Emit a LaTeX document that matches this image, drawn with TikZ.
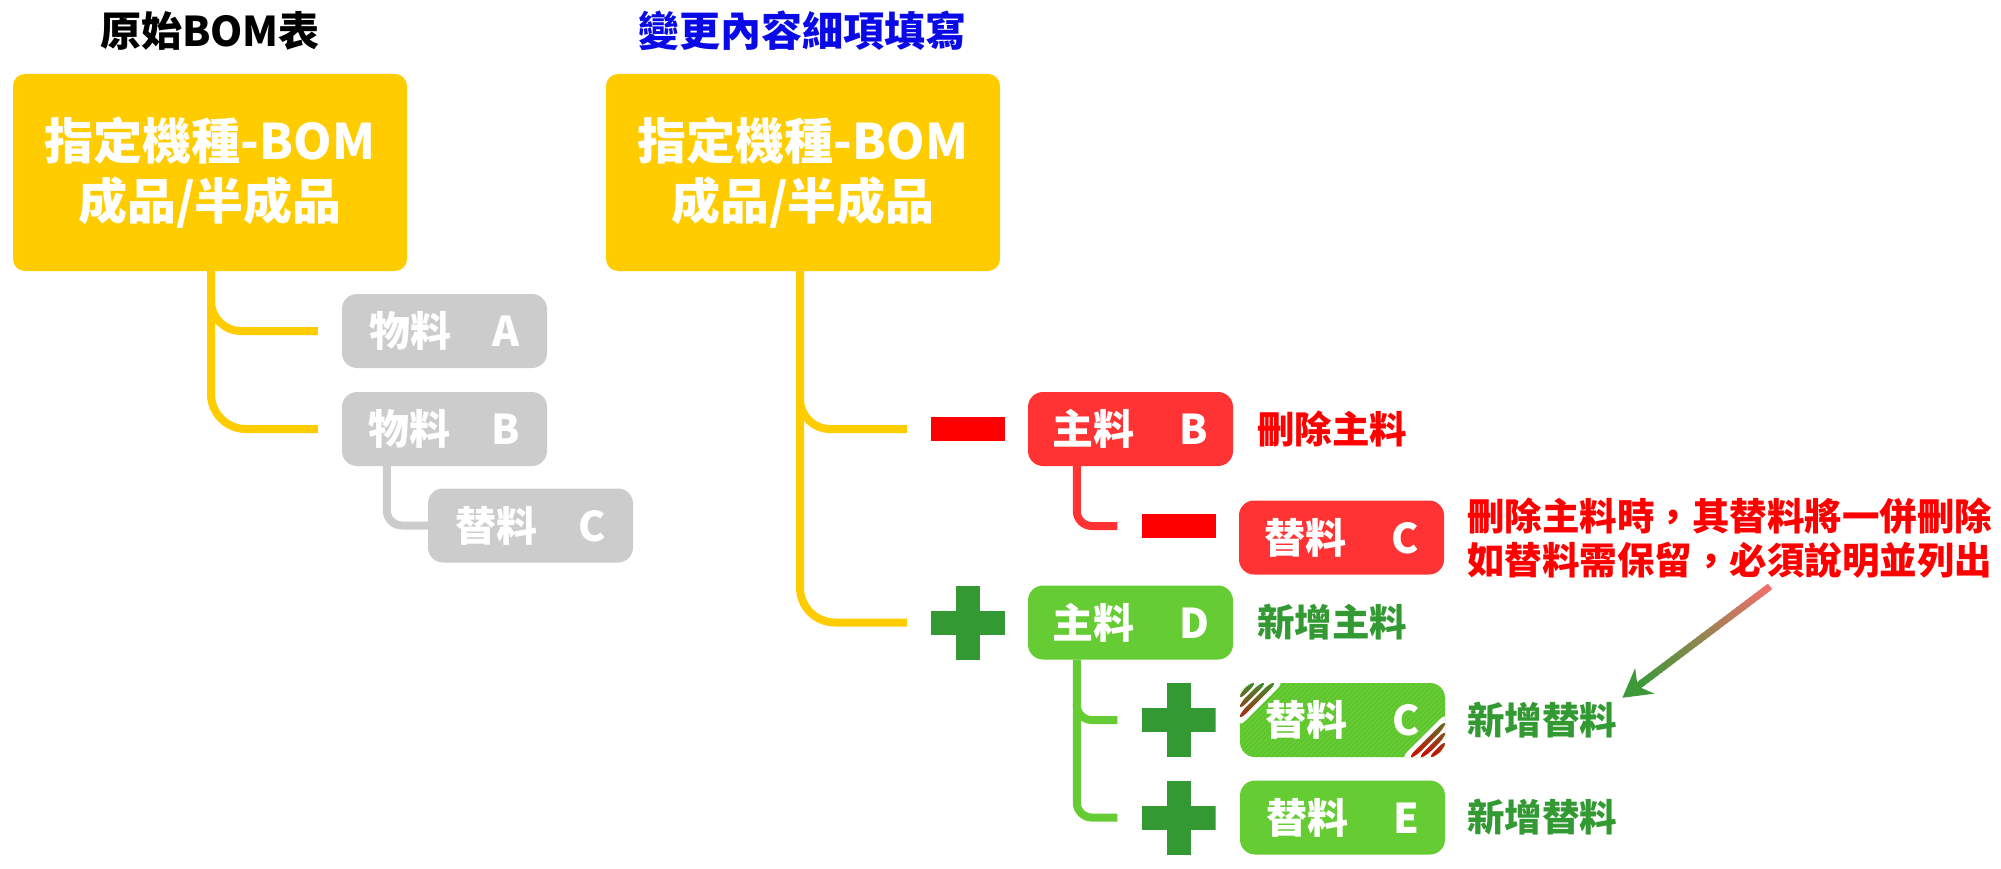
\documentclass[tikz,border=0pt]{standalone}
\usepackage{fontspec}
\setmainfont{Noto Sans CJK TC}
\usetikzlibrary{calc,arrows.meta}
\definecolor{cylw}{RGB}{255,204,0}
\definecolor{cgray}{RGB}{204,204,204}
\definecolor{cred}{RGB}{255,51,51}
\definecolor{cpure}{RGB}{255,0,0}
\definecolor{cgrn}{RGB}{102,204,51}
\definecolor{cdgrn}{RGB}{51,153,51}
\definecolor{cblue}{RGB}{10,10,230}
\definecolor{ared}{RGB}{242,112,108}
\definecolor{agrn}{RGB}{60,152,56}
\definecolor{hatchg}{RGB}{88,190,42}
\tikzset{
  title/.style={inner sep=0pt, font={\bfseries\fontsize{41}{48}\selectfont}},
  bigbox/.style={fill=cylw, rounded corners=12pt, minimum width=394pt, minimum height=197pt,
    inner sep=0pt, text=white, align=center, font={\bfseries\fontsize{49}{60}\selectfont}},
  item/.style={rounded corners=15pt, minimum width=205pt, minimum height=74pt, inner sep=0pt,
    text=white, font={\bfseries\fontsize{41}{48}\selectfont}},
  label/.style={anchor=west, inner sep=0pt, font={\bfseries\fontsize{37.5}{44}\selectfont}},
  minusnode/.style={fill=cpure, minimum width=74pt, minimum height=24pt, inner sep=0pt},
  plusnode/.style={minimum size=74pt, inner sep=0pt, path picture={
    \fill[cdgrn] ([xshift=-37pt,yshift=-12pt]path picture bounding box.center) rectangle ([xshift=37pt,yshift=12pt]path picture bounding box.center);
    \fill[cdgrn] ([xshift=-12pt,yshift=-37pt]path picture bounding box.center) rectangle ([xshift=12pt,yshift=37pt]path picture bounding box.center);}},
  conn/.style={line width=8pt},
  hatchbox/.style={path picture={
    \foreach \s in {0,5,...,285}{
      \draw[hatchg, line width=0.7pt] ([shift={(\s+5,-5)}]path picture bounding box.north west) -- ([shift={(-5,\s+5)}]path picture bounding box.north west);
    }
    \fill[white] ([shift={(-5,-5)}]path picture bounding box.north west) -- ([shift={(48,-5)}]path picture bounding box.north west) -- ([shift={(-5,48)}]path picture bounding box.north west) -- cycle;
    \begin{scope}
      \clip \foreach \a in {0,10,20,30}{
        ([shift={(\a+5,-5)}]path picture bounding box.north west) -- ([shift={(\a+11.5,-5)}]path picture bounding box.north west) -- ([shift={(-5,\a+11.5)}]path picture bounding box.north west) -- ([shift={(-5,\a+5)}]path picture bounding box.north west) -- cycle };
      \shade[top color=cdgrn, bottom color=cpure!85!black] ([shift={(-5,-5)}]path picture bounding box.north west) rectangle ([shift={(50,50)}]path picture bounding box.north west);
    \end{scope}
    \fill[white] ([shift={(5,5)}]path picture bounding box.south east) -- ([shift={(-48,5)}]path picture bounding box.south east) -- ([shift={(5,-48)}]path picture bounding box.south east) -- cycle;
    \begin{scope}
      \clip \foreach \a in {0,10,20,30}{
        ([shift={(-\a-5,5)}]path picture bounding box.south east) -- ([shift={(-\a-11.5,5)}]path picture bounding box.south east) -- ([shift={(5,-\a-11.5)}]path picture bounding box.south east) -- ([shift={(5,-\a-5)}]path picture bounding box.south east) -- cycle };
      \shade[top color=cdgrn, bottom color=cpure!85!black] ([shift={(5,5)}]path picture bounding box.south east) rectangle ([shift={(-50,-50)}]path picture bounding box.south east);
    \end{scope}
  }},
}
\begin{document}
\begin{tikzpicture}[x=1pt,y=-1pt]
\fill[white] (0,0) rectangle (2001,869);
\useasboundingbox (0,0) rectangle (2001,869);

% titles
\node[title] (t1) at (210,31) {原始BOM表};
\node[title, text=cblue] (t2) at (802,31) {變更內容細項填寫};

% main boxes
\node[bigbox] (Lbox) at (210,172.5) {指定機種-BOM\\成品/半成品};
\node[bigbox] (Rbox) at (803,172.5) {指定機種-BOM\\成品/半成品};

% left tree items
\node[item, fill=cgray] (ga) at (444.5,331) {物料\hspace{1em}A};
\node[item, fill=cgray] (gb) at (444.5,429) {物料\hspace{1em}B};
\node[item, fill=cgray] (gc) at (530.5,525.5) {替料\hspace{1em}C};

% right tree items
\node[minusnode] (m1) at (968,429) {};
\node[item, fill=cred] (rb) at (1130.5,429) {主料\hspace{1.1em}B};
\node[minusnode] (m2) at (1178.5,526) {};
\node[item, fill=cred] (rc) at (1341.5,537.5) {替料\hspace{1.1em}C};

\node[plusnode] (p1) at (968,622.5) {};
\node[item, fill=cgrn] (gd) at (1130.5,622.5) {主料\hspace{1.1em}D};
\node[plusnode] (p2) at (1178.5,720) {};
\node[item, fill=cgrn, hatchbox] (gcc) at (1342.5,720) {替料\hspace{1.1em}C};
\node[plusnode] (p3) at (1178.5,817.5) {};
\node[item, fill=cgrn] (ge) at (1342.5,817.5) {替料\hspace{1.1em}E};

% labels
\node[label, text=cpure] (l1) at (1257,429) {刪除主料};
\node[label, text=cdgrn] (l2) at (1257,622.5) {新增主料};
\node[label, text=cpure, align=left] (note) at (1467,538) {刪除主料時，其替料將一併刪除\\如替料需保留，必須說明並列出};
\node[label, text=cdgrn] (l3) at (1467,720) {新增替料};
\node[label, text=cdgrn] (l4) at (1467,817.5) {新增替料};

% left connectors
\coordinate (lv) at ($(Lbox.south)+(1,0)$);
\draw[conn, cylw, rounded corners=35pt] (lv) |- ($(gb.west)+(-24,0)$);
\draw[conn, cylw, rounded corners=30pt] ($(lv |- ga.west)+(0,-30)$) |- ($(ga.west)+(-24,0)$);
\coordinate (gv2) at ($(gb.south west)+(45,0)$);
\draw[conn, cgray, rounded corners=15pt] (gv2) |- (gc.west);

% right connectors
\coordinate (rv) at ($(Rbox.south)+(-3,0)$);
\draw[conn, cylw, rounded corners=35pt] (rv) |- ($(p1.west)+(-24,0)$);
\draw[conn, cylw, rounded corners=30pt] ($(rv |- m1.west)+(0,-31)$) |- ($(m1.west)+(-24,0)$);
\coordinate (rv2) at ($(rb.south west)+(49,0)$);
\draw[conn, cred, rounded corners=15pt] (rv2) |- ($(m2.west)+(-24,0)$);
\coordinate (gv) at ($(gd.south west)+(49,0)$);
\draw[conn, cgrn, rounded corners=15pt] (gv) |- ($(p3.west)+(-24,0)$);
\draw[conn, cgrn, rounded corners=15pt] ($(gv |- p2.west)+(0,-16)$) |- ($(p2.west)+(-24,0)$);

% gradient arrow from note to label
\coordinate (arrS) at ($(note.south west)+(303,8)$);
\coordinate (arrT) at ($(l3.north east)+(5,-4)$);
\coordinate (arrE) at ($(arrT)!20pt!(arrS)$);
\foreach \i in {0,...,29}{
  \pgfmathsetmacro\ta{\i/30}
  \pgfmathsetmacro\tb{(\i+1.3)/30}
  \pgfmathtruncatemacro\pc{100*(1-\i/29)}
  \draw[line width=7pt, ared!\pc!agrn] ($(arrS)!\ta!(arrE)$) -- ($(arrS)!\tb!(arrE)$);
}
\coordinate (hb) at ($(arrT)!28pt!(arrS)$);
\coordinate (hn) at ($(arrT)!19pt!(arrS)$);
\coordinate (hw1) at ($(hb)!16pt!90:(arrT)$);
\coordinate (hw2) at ($(hb)!16pt!-90:(arrT)$);
\fill[agrn] (arrT) -- (hw1) -- (hn) -- (hw2) -- cycle;
\end{tikzpicture}
\end{document}
